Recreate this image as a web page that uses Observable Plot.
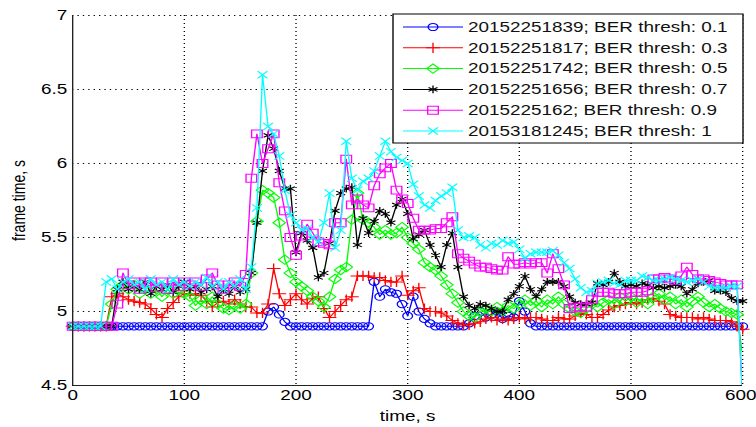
<!DOCTYPE html>
<html><head><meta charset="utf-8">
<script src="https://cdn.jsdelivr.net/npm/d3@7"></script>
<script src="https://cdn.jsdelivr.net/npm/@observablehq/plot@0.6"></script>
<style>
html,body{margin:0;padding:0;background:#fff;}
#chart{position:relative;width:756px;height:427px;overflow:hidden;background:#fff;}
#chart svg{position:absolute;left:0;top:0;transform:scaleX(1.35);transform-origin:0 0;}
</style></head><body><div id="chart"></div>
<script>
// ---- data ----
const time = d3.range(0, 605, 5); // sampling grid, seconds
const xTicks = [0, 100, 200, 300, 400, 500, 600];
const yTicks = [4.5, 5, 5.5, 6, 6.5, 7];

const labels = [
  "20152251839; BER thresh: 0.1",
  "20152251817; BER thresh: 0.3",
  "20152251742; BER thresh: 0.5",
  "20152251656; BER thresh: 0.7",
  "2015225162; BER thresh: 0.9",
  "20153181245; BER thresh: 1"
];

const blue = [
4.9,4.9,4.9,4.9,4.9,4.9,4.9,4.9,4.9,4.9,
4.9,4.9,4.9,4.9,4.9,4.9,4.9,4.9,4.9,4.9,
4.9,4.9,4.9,4.9,4.9,4.9,4.9,4.9,4.9,4.9,
4.9,4.9,4.9,4.9,4.9,5.0,5.03,4.98,4.93,4.9,
4.9,4.9,4.9,4.9,4.9,4.9,4.9,4.9,4.9,4.9,
4.9,4.9,4.9,4.9,5.2,5.1,5.15,5.13,5.12,5.05,
4.97,5.1,5.0,4.95,4.92,4.9,4.9,4.9,4.9,4.9,
4.9,4.92,4.97,5.0,4.96,4.98,5.0,4.95,4.97,4.96,
5.07,5.0,4.92,4.9,4.9,4.9,4.9,4.9,4.9,4.9,
4.9,4.9,4.9,4.9,4.9,4.9,4.9,4.9,4.9,4.9,
4.9,4.9,4.9,4.9,4.9,4.9,4.9,4.9,4.9,4.9,
4.9,4.9,4.9,4.9,4.9,4.9,4.9,4.9,4.9,4.9,
4.9];

const red = [
4.9,4.9,4.9,4.9,4.9,4.9,4.9,5.1,5.12,5.1,
5.08,5.07,5.06,5.05,5.02,4.98,4.96,5.02,5.06,5.1,
5.12,5.12,5.11,5.11,5.07,5.03,5.06,5.07,5.05,5.08,
5.05,5.03,5.03,4.99,4.99,5.05,5.29,5.12,5.04,5.08,
5.12,5.08,5.05,5.09,5.1,5.02,4.96,5.0,5.04,5.08,
5.1,5.24,5.24,5.24,5.23,5.23,5.21,5.2,5.2,5.24,
5.11,5.14,5.16,5.02,5.0,5.0,4.99,4.97,4.94,4.92,
4.91,4.91,4.92,4.93,4.95,4.96,4.94,4.95,4.94,4.95,
4.96,4.95,4.96,4.96,4.95,4.94,4.94,4.96,4.95,4.95,
4.97,4.99,4.98,4.96,4.96,4.98,5.01,5.03,5.04,5.05,
5.06,5.05,5.06,5.08,5.09,5.07,5.05,4.98,4.97,4.96,
4.96,4.96,4.95,4.96,4.95,4.94,4.94,4.94,4.93,4.9,
4.88];

const green = [
4.9,4.9,4.9,4.9,4.9,4.9,4.9,5.05,5.15,5.18,
5.15,5.18,5.12,5.15,5.12,5.15,5.1,5.15,5.12,5.15,
5.12,5.1,5.04,5.08,5.05,5.1,5.05,5.02,5.01,5.04,
5.02,5.05,5.26,5.61,5.82,5.8,5.77,5.6,5.35,5.26,
5.2,5.17,5.14,5.1,5.07,5.03,5.1,5.22,5.28,5.3,
5.62,5.8,5.62,5.6,5.57,5.52,5.55,5.52,5.53,5.57,
5.5,5.46,5.42,5.33,5.3,5.28,5.24,5.18,5.12,5.06,
5.0,4.97,4.96,5.0,5.02,5.0,5.03,5.0,5.04,5.02,
5.05,5.08,5.04,5.07,5.03,5.08,5.05,5.1,5.05,5.02,
5.0,4.99,5.02,5.05,5.03,5.06,5.08,5.05,5.1,5.07,
5.1,5.06,5.09,5.05,5.1,5.12,5.08,5.1,5.05,5.08,
5.03,5.07,5.1,5.06,5.03,5.05,5.02,5.0,4.99,4.98,
4.7];

const black = [
4.9,4.9,4.9,4.9,4.9,4.9,4.9,4.9,5.15,5.2,
5.15,5.18,5.15,5.2,5.12,5.17,5.15,5.18,5.13,5.17,
5.2,5.15,5.17,5.13,5.15,5.17,5.1,5.15,5.12,5.17,
5.13,5.15,5.26,5.6,5.95,6.19,6.1,5.95,5.83,5.83,
5.4,5.53,5.48,5.43,5.23,5.26,5.46,5.68,5.8,5.83,
5.84,5.45,5.63,5.53,5.61,5.68,5.66,5.6,5.72,5.76,
5.66,5.49,5.52,5.55,5.45,5.38,5.3,5.45,5.53,5.3,
5.1,5.04,5.02,5.05,5.04,5.02,5.0,5.0,5.08,5.12,
5.17,5.24,5.15,5.1,5.15,5.2,5.2,5.2,5.17,5.1,
5.06,5.05,5.05,5.06,5.19,5.18,5.2,5.26,5.2,5.17,
5.18,5.17,5.19,5.18,5.16,5.17,5.16,5.17,5.18,5.17,
5.12,5.15,5.19,5.2,5.21,5.14,5.14,5.13,5.09,5.07,
5.07];

const magenta = [
4.9,4.9,4.9,4.9,4.9,4.9,4.9,4.9,5.05,5.26,
5.18,5.2,5.15,5.2,5.2,5.16,5.2,5.15,5.2,5.17,
5.2,5.18,5.2,5.17,5.22,5.26,5.18,5.15,5.18,5.2,
5.17,5.25,5.9,6.2,6.0,6.1,6.2,5.87,5.68,5.5,
5.38,5.51,5.59,5.53,5.47,5.46,5.45,5.6,5.6,6.03,
5.72,5.76,5.72,5.7,5.85,5.93,5.97,6.0,5.82,5.76,
5.73,5.63,5.55,5.55,5.55,5.56,5.56,5.6,5.64,5.39,
5.36,5.34,5.32,5.3,5.3,5.29,5.28,5.28,5.37,5.32,
5.32,5.33,5.32,5.33,5.33,5.26,5.39,5.29,5.18,5.02,
5.03,5.03,5.03,5.08,5.13,5.13,5.13,5.12,5.12,5.12,
5.13,5.13,5.13,5.14,5.22,5.22,5.23,5.22,5.21,5.24,
5.3,5.25,5.22,5.22,5.21,5.2,5.19,5.18,5.18,5.18,
4.4];

const cyan = [
4.9,4.9,4.9,4.9,4.9,4.9,5.2,5.22,5.15,5.2,
5.22,5.18,5.2,5.15,5.22,5.18,5.2,5.15,5.22,5.18,
5.2,5.17,5.2,5.18,5.23,5.17,5.2,5.15,5.2,5.17,
5.22,5.15,5.3,5.7,6.6,6.25,6.2,6.05,5.82,5.65,
5.6,5.55,5.56,5.5,5.47,5.6,5.8,5.43,5.55,6.15,
5.9,5.82,5.88,5.9,5.95,6.05,6.15,6.08,6.04,6.02,
6.0,5.86,5.78,5.72,5.7,5.75,5.78,5.8,5.84,5.55,
5.5,5.51,5.5,5.45,5.43,5.46,5.45,5.48,5.46,5.47,
5.42,5.36,5.39,5.4,5.4,5.4,5.41,5.38,5.33,5.29,
5.22,5.16,5.13,5.14,5.19,5.2,5.21,5.19,5.18,5.21,
5.21,5.21,5.24,5.23,5.21,5.21,5.22,5.23,5.22,5.21,
5.2,5.21,5.22,5.2,5.17,5.16,5.16,5.16,5.17,5.17,
4.4];

// ---- styles ----
const colors = ["#0000ff", "#ff0000", "#00ff00", "#000000", "#ff00ff", "#00ffff"];
const symbols = ["circle", "plus", "diamond2", "asterisk", "square2", "times"];
const d3symbols = [d3.symbolCircle, d3.symbolPlus, d3.symbolDiamond2, d3.symbolAsterisk, d3.symbolSquare2, d3.symbolTimes];
const radii = [3.6, 3.4, 4.2, 3.6, 5.0, 3.4];
const values = [blue, red, green, black, magenta, cyan];

const S = 1.35;           // horizontal stretch of the reference picture
const W = 756 / S;

const seriesMarks = values.flatMap((vals, i) => {
  const rows = time.map((t, j) => ({t, v: vals[j]}));
  return [
    Plot.line(rows, {x: "t", y: "v", stroke: colors[i], strokeWidth: 1, clip: true}),
    Plot.dot(rows.filter(d => d.v >= 4.8), {x: "t", y: "v", symbol: () => symbols[i], r: radii[i],
      stroke: colors[i], fill: "none", strokeWidth: 1})
  ];
});

const grid = {stroke: "black", strokeOpacity: 1, strokeDasharray: "1,3", strokeWidth: 1};
const xAxisOpts = {tickSize: 0, tickPadding: 5, label: null};

const plot = Plot.plot({
  width: W, height: 427,
  marginLeft: 72 / S, marginRight: 14 / S, marginTop: 15, marginBottom: 42,
  style: {fontFamily: "'Liberation Sans', Arial, sans-serif", fontSize: "14px", background: "white", color: "black", overflow: "visible"},
  x: {domain: [0, 600]},
  y: {domain: [4.5, 7]},
  symbol: {type: "identity"},
  marks: [
    Plot.gridX(xTicks.slice(1), grid),
    Plot.gridY(yTicks.slice(1), grid),
    Plot.axisX(xTicks.slice(0, -1), {tickSize: 0, tickPadding: 5, label: "time, s", labelAnchor: "center", labelOffset: 35, labelArrow: "none"}),
    Plot.axisX(xTicks.slice(-1), {...xAxisOpts, dx: -2 / S}),
    Plot.axisY(yTicks, {tickSize: 0, tickPadding: 4, tickFormat: d => String(d), label: "frame time, s", labelAnchor: "center", labelOffset: 45, labelArrow: "none"}),
    ...seriesMarks,
    Plot.ruleX([0], {stroke: "#222", strokeWidth: 1}),
    Plot.ruleY([4.5], {stroke: "#222", strokeWidth: 1})
  ]
});

// legend (inside the axes, top right)
const svg = d3.select(plot);
const L = svg.append("g").attr("font-family", "'Liberation Sans', Arial, sans-serif").attr("font-size", 14)
  .attr("text-anchor", "start");
L.append("rect").attr("x", 393 / S).attr("y", 14).attr("width", 350 / S).attr("height", 129)
  .attr("fill", "white").attr("stroke", "black").attr("stroke-width", 1);
labels.forEach((lab, i) => {
  const cy = 27 + i * 20.8;
  L.append("line").attr("x1", 403 / S).attr("x2", 463 / S).attr("y1", cy).attr("y2", cy).attr("stroke", colors[i]);
  L.append("path").attr("transform", `translate(${433 / S},${cy})`)
    .attr("d", d3.symbol(d3symbols[i], Math.PI * radii[i] * radii[i])())
    .attr("fill", "none").attr("stroke", colors[i]);
  L.append("text").attr("x", 468 / S).attr("y", cy).attr("dy", "0.35em").attr("text-anchor", "start")
    .attr("fill", "#111").text(lab);
});

document.getElementById("chart").appendChild(plot);
</script></body></html>
